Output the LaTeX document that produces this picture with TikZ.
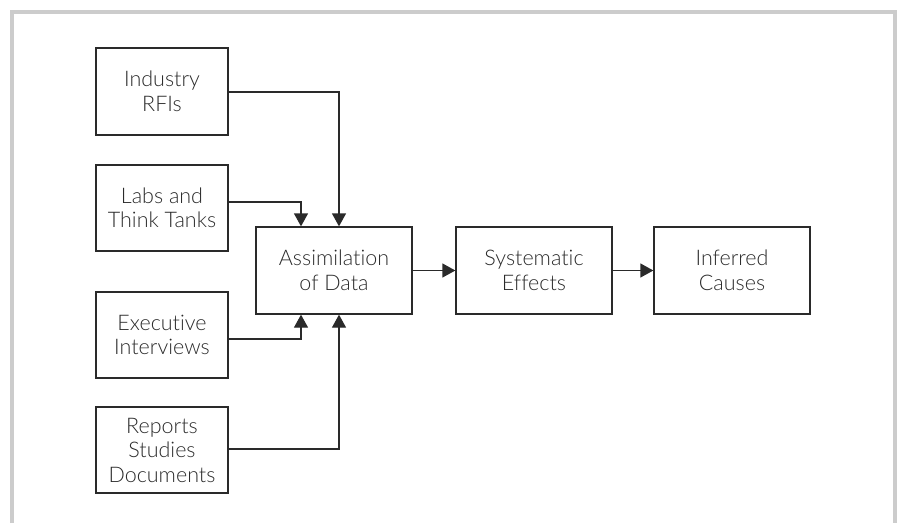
\documentclass[tikz,border=0pt]{standalone}
\usepackage{fontspec}
\setmainfont{Lato}[UprightFont=* Light,Ligatures={NoCommon}]
\usetikzlibrary{arrows.meta}
\definecolor{ink}{HTML}{2A2A2A}
\definecolor{frame}{HTML}{CCCCCC}
\begin{document}
\begin{tikzpicture}[x=1pt,y=-1pt,
  box/.style={draw=ink,line width=1.3pt,text=ink,align=center,inner sep=0pt,
    font=\fontsize{21.5}{24.5}\selectfont},
  conn/.style={draw=ink,line width=1.3pt,-{Triangle[length=13pt,width=14pt]}}]
\useasboundingbox (0,0) rectangle (897,523);
\draw[frame,line width=4pt] (12,523) -- (12,12) -- (895,12) -- (895,523);
% boxes
\node[box,minimum width=132pt,minimum height=87pt] (ind) at (162,91.5) {Industry\\RFIs};
\node[box,minimum width=132pt,minimum height=86pt] (lab) at (162,208) {Labs and\\Think Tanks};
\node[box,minimum width=132pt,minimum height=86pt] (exe) at (162,335) {Executive\\Interviews};
\node[box,minimum width=132pt,minimum height=86pt] (rep) at (162,450) {Reports\\Studies\\Documents};
\node[box,minimum width=156pt,minimum height=87pt] (ass) at (334,270.5) {Assimilation\\of Data};
\node[box,minimum width=156pt,minimum height=87pt] (sys) at (534,270.5) {Systematic\\Effects};
\node[box,minimum width=156pt,minimum height=87pt] (inf) at (732,270.5) {Inferred\\Causes};
% connectors
\coordinate (a1) at (339,0);
\coordinate (a2) at (301,0);
\draw[conn] (ind.east |- 0,92) -| (a1 |- ass.north);
\draw[conn] (lab.east |- 0,202) -| (a2 |- ass.north);
\draw[conn] (exe.east |- 0,339) -| (a2 |- ass.south);
\draw[conn] (rep.east |- 0,449) -| (a1 |- ass.south);
\draw[conn] (ass) -- (sys);
\draw[conn] (sys) -- (inf);
\end{tikzpicture}
\end{document}
